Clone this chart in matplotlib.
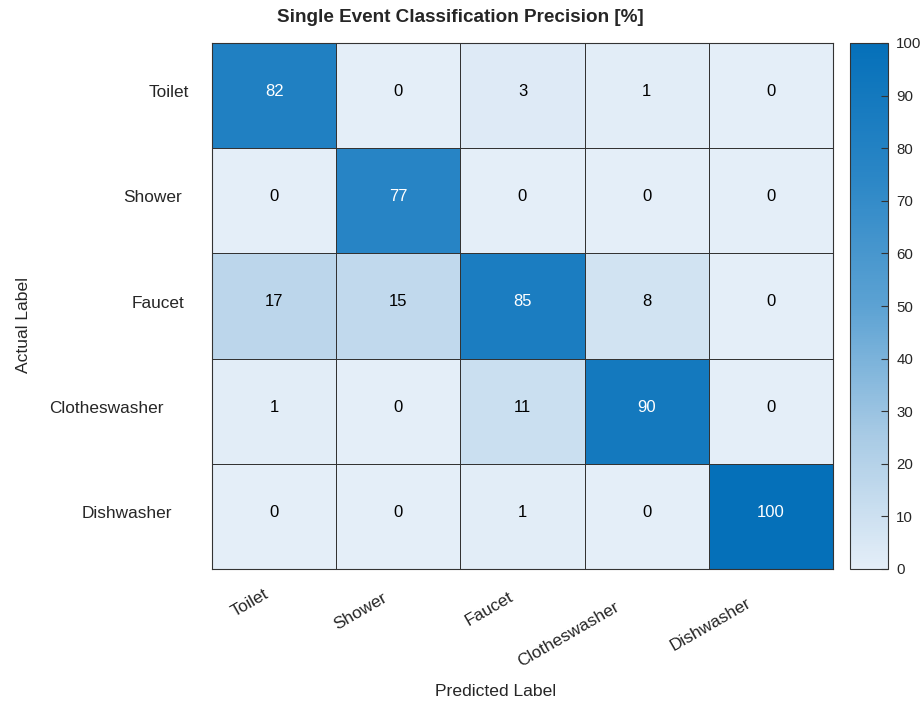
import numpy as np
import matplotlib.pyplot as plt
from matplotlib.colors import LinearSegmentedColormap
from matplotlib.transforms import ScaledTranslation, blended_transform_factory

plt.rcParams['font.family'] = ['Liberation Sans', 'DejaVu Sans']

# class names and precision matrix (rows: actual, cols: predicted)
labels = ['Toilet', 'Shower', 'Faucet', 'Clotheswasher', 'Dishwasher']
precision = np.array([
    [82, 0, 3, 1, 0],
    [0, 77, 0, 0, 0],
    [17, 15, 85, 8, 0],
    [1, 0, 11, 90, 0],
    [0, 0, 1, 0, 100],
])
cbar_ticks = [0, 10, 20, 30, 40, 50, 60, 70, 80, 90, 100]

TXT = '#262626'
LINE = '#333333'
DPI = 100

cmap = LinearSegmentedColormap.from_list(
    'blu', ['#e4eef8', '#a9cbe5', '#5ca2d3', '#2a86c6', '#0570b9'])

fig = plt.figure(figsize=(9.23, 7.03), dpi=DPI)
ax = fig.add_axes([212/923, 1-569/703, (833-212)/923, (569-43)/703])
cax = fig.add_axes([850/923, 1-569/703, (888-850)/923, (569-43)/703])

n = len(labels)
im = ax.pcolormesh(np.arange(n+1), np.arange(n+1), precision, cmap=cmap,
                   vmin=0, vmax=100, edgecolor=LINE, linewidth=0.7)
ax.set_xlim(0, n)
ax.set_ylim(n, 0)
up = ax.transData + ScaledTranslation(0, 4 / DPI, fig.dpi_scale_trans)
for i in range(n):
    for j in range(n):
        v = precision[i, j]
        ax.text(j + 0.5, i + 0.5, str(v), ha='center', va='center',
                fontsize=12, color='white' if v > 50 else 'black',
                transform=up)

ax.set_xticks([])
ax.set_yticks([])
for s in ax.spines.values():
    s.set_color(LINE)
    s.set_linewidth(0.8)

# category labels drawn as texts so they can be nudged like the original
ytr = blended_transform_factory(ax.transAxes, ax.transData)
xtr = blended_transform_factory(ax.transData, ax.transAxes)
ytexts = [ax.text(0, i + 0.5, lab, transform=ytr, ha='right', va='center',
                  fontsize=12.4, color=TXT) for i, lab in enumerate(labels)]
xtexts = [ax.text(j + 0.5, 0, lab, transform=xtr, ha='right', va='top',
                  rotation=30, rotation_mode='anchor', fontsize=12.4,
                  color=TXT) for j, lab in enumerate(labels)]

fig.text(496/923, 1-692/703, 'Predicted Label', ha='center', va='center',
         fontsize=12.6, color=TXT)
fig.text(24/923, 1-325/703, 'Actual Label', ha='center', va='center',
         rotation=90, fontsize=12.6, color=TXT)
fig.text(460/923, 1-18/703, 'Single Event Classification Precision [%]',
         ha='center', va='center', fontsize=13.6, fontweight='bold', color=TXT)

cb = fig.colorbar(im, cax=cax, ticks=cbar_ticks)
cb.outline.set_color(LINE)
cb.outline.set_linewidth(0.8)
cax.tick_params(direction='in', length=5, width=0.8, color=LINE,
                labelsize=10.8, labelcolor=TXT, pad=6)

fig.canvas.draw()
r = fig.canvas.get_renderer()
widths = [t.get_window_extent(r).width for t in ytexts]
for i, t in enumerate(ytexts):
    dx = -10 - widths[i] / 3
    t.set_transform(ytr + ScaledTranslation(dx / DPI, 3 / DPI, fig.dpi_scale_trans))
for j, t in enumerate(xtexts):
    w = widths[j]
    dx = 1 - 0.289 * w
    dy = -11 - 0.167 * w
    t.set_transform(xtr + ScaledTranslation(dx / DPI, dy / DPI, fig.dpi_scale_trans))

fig.savefig('out.png', dpi=DPI)
